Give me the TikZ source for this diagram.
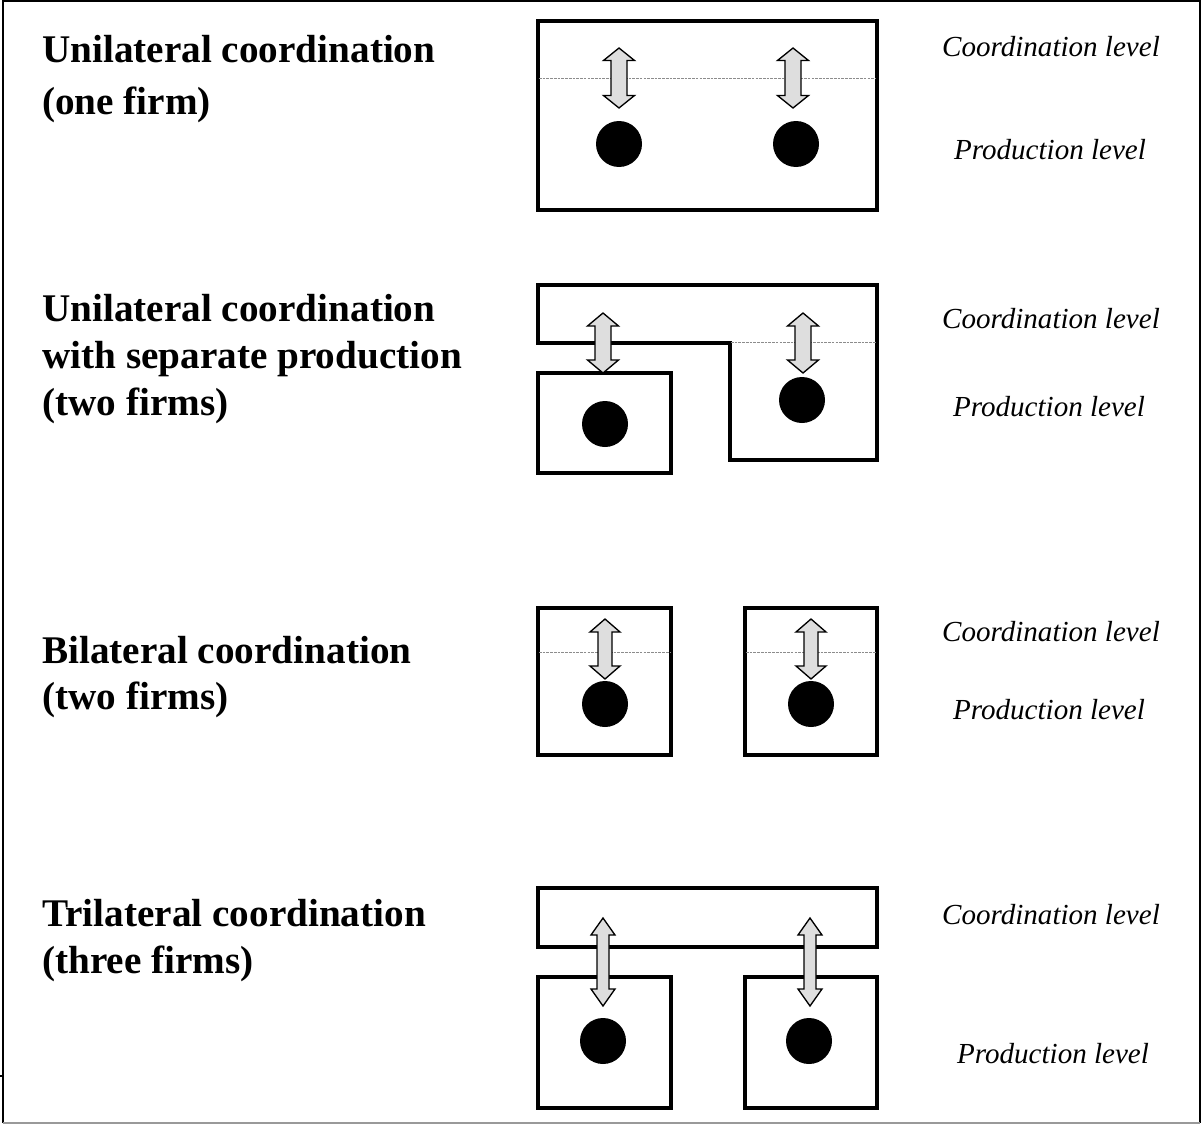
\documentclass[tikz,border=0pt]{standalone}
\usepackage{fontspec}
\setmainfont{Liberation Serif}

\tikzset{
  box/.style={draw=black, line width=2.8pt, line join=miter},
  level/.style={draw=black!45, line width=0.45pt, dash pattern=on 2pt off 0.8pt},
  firm/.style={circle, fill=black, inner sep=0pt, minimum size=#1},
  firm/.default=34.5pt,
  link/.style={draw=black, line width=1pt, fill=black!13, line join=miter},
  title/.style={font=\bfseries\fontsize{29.4}{35}\selectfont, anchor=base west, inner sep=0pt},
  lvl/.style={font=\itshape\fontsize{21.8}{26}\selectfont, anchor=base, inner sep=0pt},
}

% vertical double-headed block arrow:
% #1 x, #2 top, #3 bottom, #4 shaft half width, #5 head half width, #6 head length
\newcommand\dblarrow[6]{%
  \draw[link] (#1,#2) -- (#1+#5,#2+#6) -- (#1+#4,#2+#6) -- (#1+#4,#3-#6)
    -- (#1+#5,#3-#6) -- (#1,#3) -- (#1-#5,#3-#6) -- (#1-#4,#3-#6)
    -- (#1-#4,#2+#6) -- (#1-#5,#2+#6) -- cycle;}

\begin{document}
\begin{tikzpicture}[x=0.75pt, y=-0.75pt]
  \useasboundingbox (0,0) rectangle (1203,1124);
  \fill[white] (0,0) rectangle (1203,1124);

  % outer frame
  \draw[black, line width=1.5pt] (3,1123) -- (3,1) -- (1200,1) -- (1200,1123);
  \draw[black!40, line width=1pt] (3,1123) -- (1200,1123);
  \draw[black, line width=0.8pt] (0,1076) -- (3,1076);

  % ---------- Unilateral coordination (one firm)
  \node[title] (t1a) at (42,63) {Unilateral coordination};
  \node[title] (t1b) at (42,114) {(one firm)};
  \draw[box] (538,21) rectangle (877,210);
  \draw[level] (539,78) -- (876,78);
  \node[firm] (f1a) at (619,144) {};
  \node[firm] (f1b) at (796,144) {};
  \dblarrow{619}{48}{108}{8}{15.5}{12.5}
  \dblarrow{793}{48}{108}{8}{15.5}{12.5}
  \node[lvl] (c1) at (1051,57) {Coordination level};
  \node[lvl] (p1) at (1050,159) {Production level};

  % ---------- Unilateral coordination with separate production (two firms)
  \node[title] (t2a) at (42,321) {Unilateral coordination};
  \node[title] (t2b) at (42,368) {with separate production};
  \node[title] (t2c) at (42,415) {(two firms)};
  \draw[box] (538,285) -- (877,285) -- (877,460) -- (730,460) -- (730,343)
    -- (538,343) -- cycle;
  \draw[box] (538,373) rectangle (671,473);
  \draw[level] (731,342) -- (876,342);
  \node[firm] (f2a) at (605,424) {};
  \node[firm] (f2b) at (802,400) {};
  \dblarrow{603}{313}{373}{8}{15.5}{13}
  \dblarrow{803}{313}{373}{8}{15.5}{13}
  \node[lvl] (c2) at (1051,328) {Coordination level};
  \node[lvl] (p2) at (1049,416) {Production level};

  % ---------- Bilateral coordination (two firms)
  \node[title] (t3a) at (42,663) {Bilateral coordination};
  \node[title] (t3b) at (42,709) {(two firms)};
  \draw[box] (538,608) rectangle (671,755);
  \draw[box] (745,608) rectangle (877,755);
  \draw[level] (539,652) -- (670,652);
  \draw[level] (746,652) -- (876,652);
  \node[firm] (f3a) at (605,704) {};
  \node[firm] (f3b) at (811,704) {};
  \dblarrow{605}{619}{679}{7}{15}{13}
  \dblarrow{811}{619}{679}{7}{15}{13}
  \node[lvl] (c3) at (1051,641) {Coordination level};
  \node[lvl] (p3) at (1049,719) {Production level};

  % ---------- Trilateral coordination (three firms)
  \node[title] (t4a) at (42,926) {Trilateral coordination};
  \node[title] (t4b) at (42,973) {(three firms)};
  \draw[box] (538,888) rectangle (877,947);
  \draw[box] (538,977) rectangle (671,1108);
  \draw[box] (745,977) rectangle (877,1108);
  \node[firm] (f4a) at (603,1041) {};
  \node[firm] (f4b) at (809,1041) {};
  \dblarrow{603}{918}{1006}{6}{12}{17}
  \dblarrow{810}{918}{1006}{6}{12}{17}
  \node[lvl] (c4) at (1051,924) {Coordination level};
  \node[lvl] (p4) at (1053,1063) {Production level};
\end{tikzpicture}
\end{document}
